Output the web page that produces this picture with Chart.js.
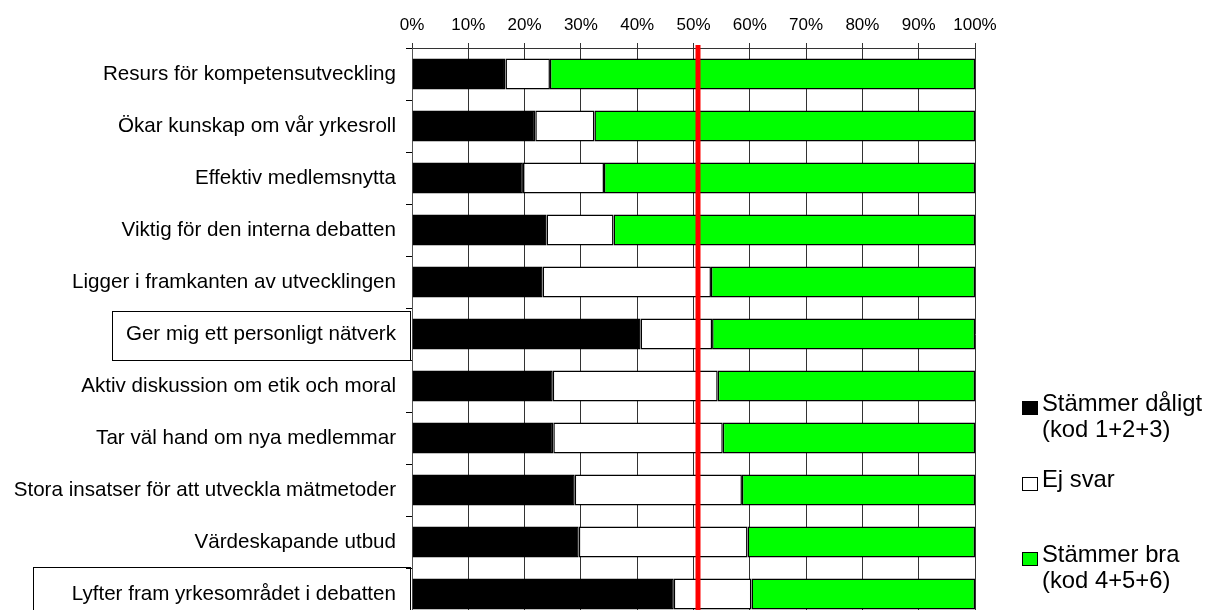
<!DOCTYPE html>
<html>
<head>
<meta charset="utf-8">
<title>Stämmer dåligt / bra</title>
<script src="https://cdn.jsdelivr.net/npm/chart.js@4.4.1/dist/chart.umd.min.js"></script>
<style>
  html, body { margin: 0; padding: 0; background: #fff; overflow: hidden; }
  #wrap { position: relative; width: 1207px; height: 610px; overflow: hidden; }
  #chart { position: absolute; left: 0; top: 0; }
  #legend { position: absolute; left: 0; top: 0; width: 1207px; height: 610px; font-family: "Liberation Sans", Arial, sans-serif; font-size: 23.8px; color: #000; }
  .leg-item { position: absolute; left: 1022px; width: 185px; white-space: pre; line-height: 26px; }
  .leg-box { position: absolute; left: 0; top: 11px; width: 14px; height: 12px; border: 1px solid #000; box-sizing: content-box; }
  .leg-text { margin-left: 20px; }
</style>
</head>
<body>
<div id="wrap">
  <canvas id="chart" width="1207" height="630"></canvas>
  <div id="legend"></div>
</div>
<script>
const categories = [
  "Resurs för kompetensutveckling",
  "Ökar kunskap om vår yrkesroll",
  "Effektiv medlemsnytta",
  "Viktig för den interna debatten",
  "Ligger i framkanten av utvecklingen",
  "Ger mig ett personligt nätverk",
  "Aktiv diskussion om etik och moral",
  "Tar väl hand om nya medlemmar",
  "Stora insatser för att utveckla mätmetoder",
  "Värdeskapande utbud",
  "Lyfter fram yrkesområdet i debatten"
];

// percent of answers per statement
const badValues  = [16.6, 21.9, 19.7, 23.9, 23.2, 40.6, 25.0, 25.1, 28.9, 29.6, 46.5];
const noneValues = [7.9, 10.5, 14.4, 11.9, 29.9, 12.7, 29.3, 30.1, 29.7, 30.0, 13.8];
const goodValues = [75.5, 67.6, 65.9, 64.2, 46.9, 46.7, 45.7, 44.8, 41.4, 40.4, 39.7];

const seriesNames = ["Stämmer dåligt\n(kod 1+2+3)", "Ej svar", "Stämmer bra\n(kod 4+5+6)"];
const seriesColors = ["#000000", "#ffffff", "#00ff00"];

const xTicks = [0, 10, 20, 30, 40, 50, 60, 70, 80, 90, 100];
const redLineValue = 50.8;

// statements that have a frame round their label
const boxedLabels = [
  { index: 5, padLeft: 14, padTop: 3 },
  { index: 10, padLeft: 39, padTop: -1 }
];

const FONT = '"Liberation Sans", Arial, sans-serif';
const LABEL_SIZE = 20.6;

const redLine = {
  id: 'redLine',
  afterDatasetsDraw(chart) {
    const ctx = chart.ctx;
    const x = chart.scales.x.getPixelForValue(redLineValue);
    ctx.save();
    ctx.strokeStyle = '#ff0000';
    ctx.lineWidth = 5;
    ctx.beginPath();
    ctx.moveTo(x, chart.chartArea.top - 3);
    ctx.lineTo(x, chart.chartArea.bottom);
    ctx.stroke();
    ctx.restore();
  }
};

const labelFrames = {
  id: 'labelFrames',
  afterDraw(chart) {
    const ctx = chart.ctx;
    const y = chart.scales.y;
    const band = (y.getPixelForValue(1) - y.getPixelForValue(0));
    const right = chart.chartArea.left - 2.5;
    const textRight = chart.chartArea.left - 6 - 10;
    ctx.save();
    ctx.font = LABEL_SIZE + 'px ' + FONT;
    ctx.strokeStyle = '#000';
    ctx.lineWidth = 1;
    boxedLabels.forEach(b => {
      const c = y.getPixelForValue(b.index);
      const top = c - band / 2 + b.padTop;
      const bottom = c + band / 2;
      const w = ctx.measureText(categories[b.index]).width;
      const left = textRight - w - b.padLeft;
      ctx.strokeRect(Math.round(left) + 0.5, Math.round(top) + 0.5, Math.round(right - left), Math.round(bottom - top));
    });
    ctx.restore();
  }
};

const values = [badValues, noneValues, goodValues];

const chart = new Chart(document.getElementById('chart'), {
  type: 'bar',
  data: {
    labels: categories,
    datasets: seriesNames.map((name, i) => ({
      label: name,
      data: values[i],
      backgroundColor: seriesColors[i],
      borderColor: '#000',
      borderWidth: 1.5,
      borderSkipped: false,
      barPercentage: 0.6,
      categoryPercentage: 1
    }))
  },
  options: {
    indexAxis: 'y',
    responsive: false,
    animation: false,
    layout: { padding: { left: 0, top: 0, right: 232, bottom: 10 } },
    plugins: {
      legend: { display: false },
      tooltip: { enabled: false }
    },
    scales: {
      x: {
        position: 'top',
        stacked: true,
        min: 0,
        max: 100,
        afterBuildTicks: s => { s.ticks = xTicks.map(v => ({ value: v })); },
        afterFit: s => { s.height = 48; s.paddingLeft = 0; s.paddingRight = 0; },
        ticks: {
          color: '#000',
          font: { family: FONT, size: 17 },
          padding: 7,
          maxRotation: 0,
          callback: v => v + '%'
        },
        grid: { color: '#333', lineWidth: 1, tickLength: 5, drawTicks: true },
        border: { display: true, color: '#333', width: 1 }
      },
      y: {
        stacked: true,
        afterFit: s => { s.width = 412; s.paddingTop = 0; s.paddingBottom = 0; },
        ticks: {
          color: '#000',
          font: { family: FONT, size: LABEL_SIZE },
          padding: 10
        },
        grid: { offset: true, drawOnChartArea: false, color: '#000', tickLength: 6 },
        border: { display: true, color: '#555', width: 1 }
      }
    }
  },
  plugins: [redLine, labelFrames]
});

// legend on the right, built from the datasets
const legendTops = [390, 466, 541];
const legend = document.getElementById('legend');
chart.data.datasets.forEach((ds, i) => {
  const item = document.createElement('div');
  item.className = 'leg-item';
  item.style.top = legendTops[i] + 'px';
  const box = document.createElement('div');
  box.className = 'leg-box';
  box.style.background = ds.backgroundColor;
  const txt = document.createElement('div');
  txt.className = 'leg-text';
  txt.textContent = ds.label;
  item.appendChild(box);
  item.appendChild(txt);
  legend.appendChild(item);
});
</script>
</body>
</html>
